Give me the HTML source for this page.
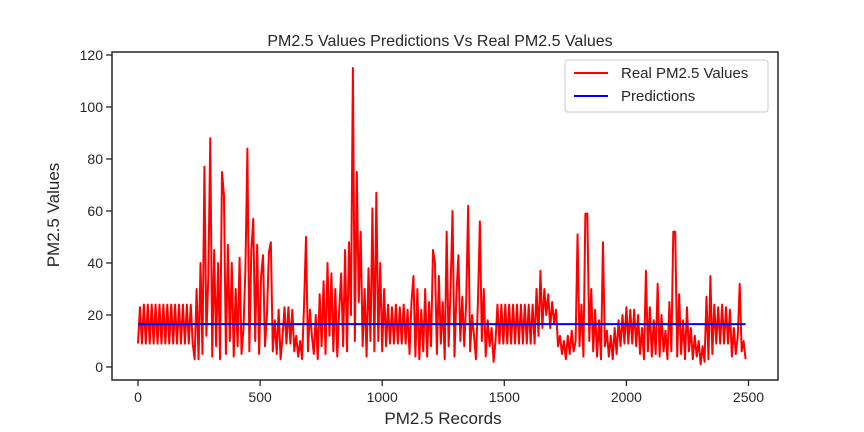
<!DOCTYPE html>
<html><head><meta charset="utf-8"><style>
html,body{margin:0;padding:0;background:#fff;}
svg{display:block;font-family:"Liberation Sans","DejaVu Sans",sans-serif;}
</style></head><body>
<svg id="chart" width="864" height="432" viewBox="0 0 864 432" xmlns="http://www.w3.org/2000/svg"></svg>
<script>
const xTicks=[0,500,1000,1500,2000,2500];
const yTicks=[0,20,40,60,80,100,120];
const step=8;
const realValues=[
9,23,9,24,9,24,9,24,9,24,9,24,9,24,9,24,9,24,9,24,9,24,9,24,9,
24,9,24,9,3,30,3,40,5,77,12,35,88,4,45,8,40,3,75,66,5,47,10,40,4,
30,8,42,5,15,38,84,6,45,57,10,47,5,35,43,8,20,44,48,6,18,5,22,3,12,
23,9,23,9,22,6,12,4,10,3,24,50,6,22,12,5,20,3,28,8,33,5,40,12,36,
6,30,4,22,36,8,45,6,48,20,115,10,75,25,52,8,30,4,38,10,61,6,67,10,40,
6,30,8,24,9,23,9,24,9,23,9,24,9,22,5,25,35,4,30,3,22,6,30,4,25,
8,45,40,5,35,9,25,3,52,8,30,60,4,28,43,10,27,8,25,62,6,20,12,3,25,
56,10,30,4,18,8,15,2,10,24,9,24,9,24,9,24,9,24,9,24,9,24,9,24,9,
24,9,24,9,30,12,37,15,30,20,28,15,25,17,22,8,12,5,10,3,12,5,14,6,10,
51,8,24,4,59,59,10,30,6,22,4,18,3,48,8,14,4,12,3,15,5,18,8,20,9,
23,9,22,9,22,8,20,5,15,3,37,6,23,4,18,5,32,4,20,6,14,3,25,6,52,
52,4,28,5,18,3,23,6,15,3,12,4,10,1,8,2,27,3,35,5,24,9,23,9,24,
9,23,9,22,4,15,5,12,32,6,10,3
];
const predictionValue=16.5;
const seriesNames=["Real PM2.5 Values","Predictions"];

const NS="http://www.w3.org/2000/svg";
const svg=document.getElementById('chart');
const L=112,R=778,T=52,B=380;
const xs=v=>138+(v-0)*(748.5-138)/2500;
const ys=v=>367-v*(367-55)/120;
const txt="#262626";
function mk(tag,attrs,parent){const e=document.createElementNS(NS,tag);for(const k in attrs)e.setAttribute(k,attrs[k]);(parent||svg).appendChild(e);return e;}

let t=mk('text',{x:440,y:46,'text-anchor':'middle','font-size':16,fill:txt});
t.textContent="PM2.5 Values Predictions Vs Real PM2.5 Values";



let pts=realValues.map((v,i)=>xs(i*step).toFixed(2)+","+ys(v).toFixed(2)).join(" ");
let pl=mk('polyline',{points:pts,fill:'none',stroke:'#ff0000','stroke-width':2,'stroke-linejoin':'round'});


let pr=mk('line',{x1:xs(0),x2:xs((realValues.length-1)*step),y1:ys(predictionValue),y2:ys(predictionValue),stroke:'#0000ff','stroke-width':2});



let fr=mk('rect',{x:L,y:T,width:R-L,height:B-T,fill:'none',stroke:txt,'stroke-width':1.5});



xTicks.forEach(v=>{
  let g=mk('g',{});
  
  
  mk('line',{x1:xs(v),x2:xs(v),y1:B,y2:B+6,stroke:txt,'stroke-width':1.3},g);
  let l=mk('text',{x:xs(v),y:B+22,'text-anchor':'middle','font-size':14,fill:txt},g);
  l.textContent=v;
});
yTicks.forEach(v=>{
  let g=mk('g',{});
  
  
  mk('line',{x1:L-6,x2:L,y1:ys(v),y2:ys(v),stroke:txt,'stroke-width':1.3},g);
  let l=mk('text',{x:L-9,y:ys(v)+5,'text-anchor':'end','font-size':14,fill:txt},g);
  l.textContent=v;
});
let xl=mk('text',{x:443,y:424,'text-anchor':'middle','font-size':17,fill:txt});
xl.textContent="PM2.5 Records";


let yl=mk('text',{x:0,y:0,'text-anchor':'middle','font-size':17,fill:txt,transform:'translate(59,215) rotate(-90)'});
yl.textContent="PM2.5 Values";



let lg=mk('g',{});


mk('rect',{x:565,y:60,width:203,height:52,rx:3,fill:'#fff',stroke:'#cccccc','stroke-width':1},lg);
const legColors=['#ff0000','#0000ff'];
seriesNames.forEach((n,i)=>{
  let e=mk('g',{},lg);
  
  
  let y=73+i*23;
  mk('line',{x1:574,x2:608,y1:y,y2:y,stroke:legColors[i],'stroke-width':2},e);
  let tt=mk('text',{x:621,y:y+5,'font-size':15,fill:txt},e);
  tt.textContent=n;
});
</script>
</body></html>
